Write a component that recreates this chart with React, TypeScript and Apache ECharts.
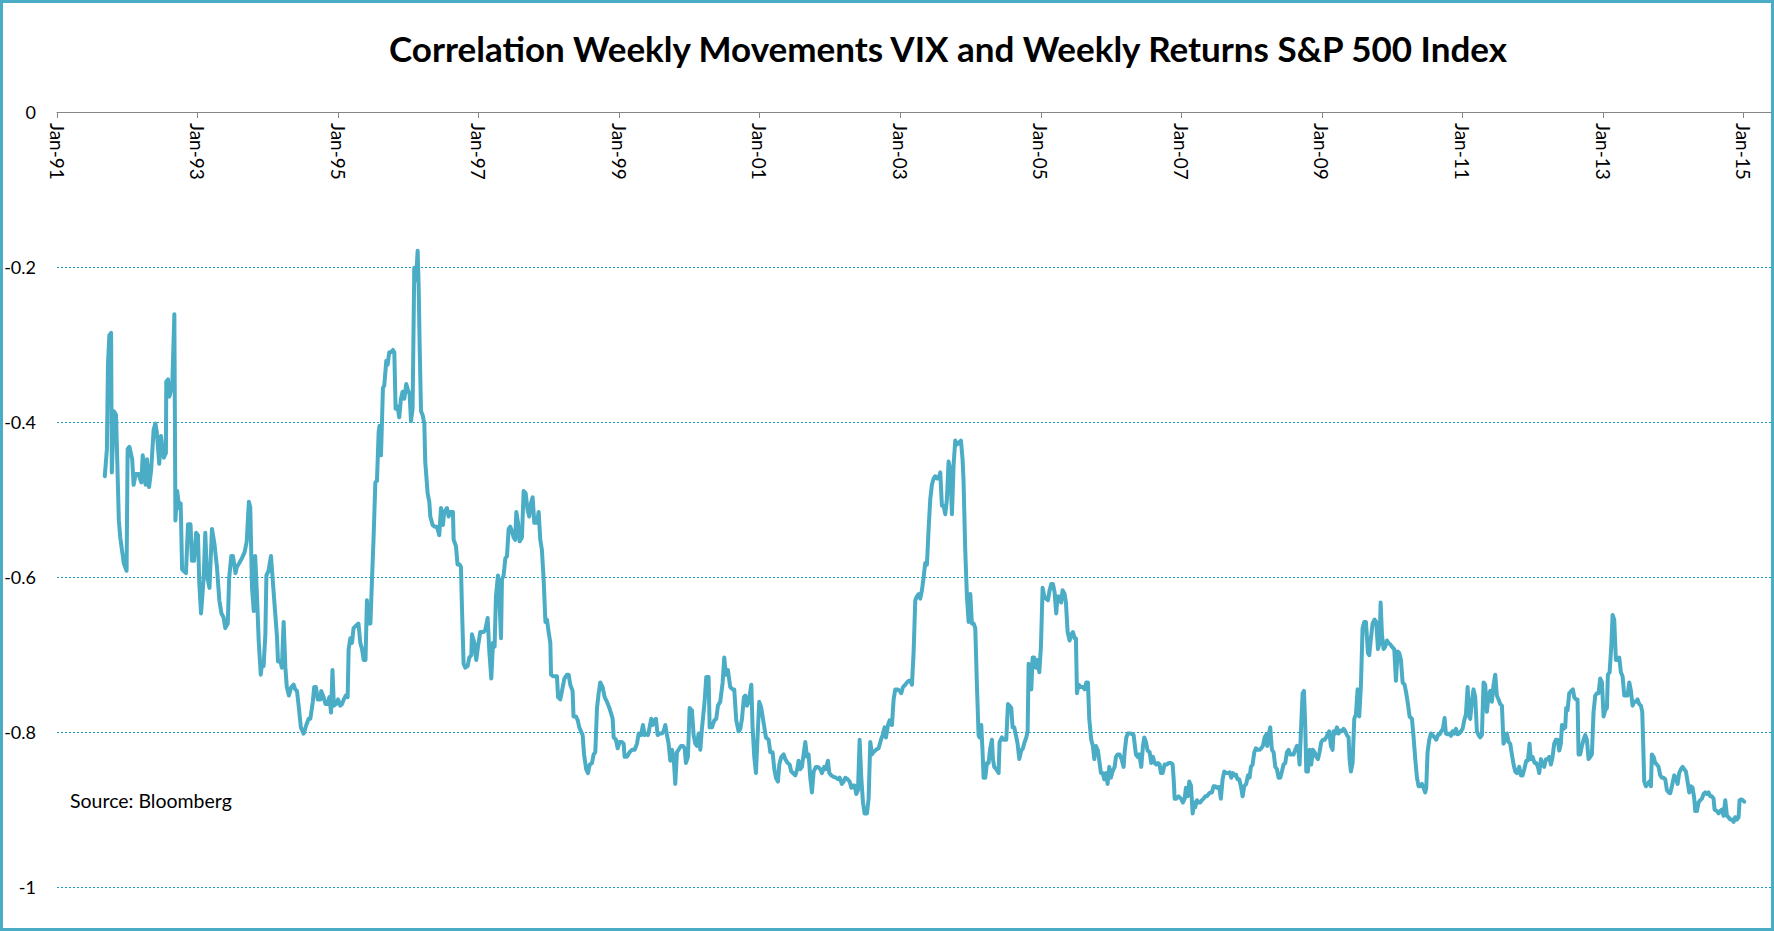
import React, { useEffect, useRef } from 'react';
import * as echarts from 'echarts';

const TITLE = 'Correlation Weekly Movements VIX and Weekly Returns S&P 500 Index';
const SOURCE = 'Source: Bloomberg';
const X_TICK_YEARS = [1991, 1993, 1995, 1997, 1999, 2001, 2003, 2005, 2007, 2009, 2011, 2013, 2015];
const X_MIN = 1991;
const X_MAX = 2015.39;

// [decimal year, correlation]
const corr1991to1995: [number, number][] = [
  [1991.68,-0.470],[1991.71,-0.435],[1991.725,-0.326],[1991.745,-0.288],[1991.77,-0.285],[1991.78,-0.465],[1991.81,-0.386],[1991.84,-0.391],[1991.88,-0.527],[1991.90,-0.549],[1991.95,-0.582],[1991.99,-0.592],[1992.005,-0.435],[1992.03,-0.432],[1992.07,-0.448],[1992.09,-0.481],[1992.12,-0.467],[1992.16,-0.467],[1992.20,-0.478],[1992.22,-0.443],[1992.26,-0.481],[1992.28,-0.448],[1992.31,-0.484],[1992.34,-0.462],[1992.375,-0.410],[1992.40,-0.402],[1992.42,-0.413],[1992.455,-0.454],[1992.48,-0.418],[1992.52,-0.446],[1992.55,-0.440],[1992.555,-0.348],[1992.58,-0.345],[1992.60,-0.367],[1992.64,-0.353],[1992.67,-0.261],[1992.685,-0.527],[1992.71,-0.489],[1992.74,-0.511],[1992.76,-0.505],[1992.78,-0.590],[1992.80,-0.592],[1992.835,-0.595],[1992.864,-0.532],[1992.90,-0.532],[1992.92,-0.579],[1992.95,-0.579],[1992.98,-0.543],[1993.006,-0.546],[1993.025,-0.609],[1993.05,-0.647],[1993.087,-0.601],[1993.11,-0.543],[1993.134,-0.598],[1993.17,-0.614],[1993.205,-0.538],[1993.24,-0.557],[1993.276,-0.587],[1993.31,-0.630],[1993.34,-0.647],[1993.37,-0.652],[1993.395,-0.666],[1993.43,-0.660],[1993.45,-0.601],[1993.48,-0.573],[1993.504,-0.573],[1993.54,-0.595],[1993.56,-0.587],[1993.594,-0.582],[1993.63,-0.576],[1993.67,-0.568],[1993.70,-0.554],[1993.73,-0.503],[1993.75,-0.510],[1993.775,-0.614],[1993.80,-0.644],[1993.82,-0.573],[1993.845,-0.622],[1993.87,-0.682],[1993.90,-0.726],[1993.917,-0.712],[1993.94,-0.715],[1993.965,-0.674],[1993.98,-0.598],[1994.01,-0.592],[1994.045,-0.573],[1994.083,-0.620],[1994.13,-0.677],[1994.145,-0.709],[1994.18,-0.709],[1994.20,-0.717],[1994.225,-0.658],[1994.25,-0.717],[1994.27,-0.742],[1994.30,-0.753],[1994.334,-0.742],[1994.367,-0.739],[1994.39,-0.745],[1994.415,-0.747],[1994.44,-0.767],[1994.47,-0.794],[1994.51,-0.802],[1994.548,-0.791],[1994.58,-0.783],[1994.605,-0.783],[1994.64,-0.761],[1994.66,-0.742],[1994.685,-0.742],[1994.71,-0.758],[1994.747,-0.758],[1994.76,-0.747],[1994.794,-0.755],[1994.82,-0.764],[1994.85,-0.764],[1994.875,-0.755],[1994.90,-0.775],[1994.92,-0.720],[1994.94,-0.766],[1994.97,-0.764],[1995.00,-0.758],[1995.03,-0.766],[1995.055,-0.764],[1995.08,-0.758],[1995.11,-0.753],[1995.136,-0.755],[1995.15,-0.693],[1995.174,-0.679],[1995.198,-0.685],[1995.22,-0.666],[1995.255,-0.663],[1995.29,-0.660],[1995.316,-0.685],[1995.34,-0.693],[1995.364,-0.707],[1995.39,-0.707],[1995.41,-0.630],[1995.435,-0.660],[1995.46,-0.660]
];

const corr1995to1999: [number, number][] = [
  [1995.48,-0.609],[1995.505,-0.549],[1995.53,-0.478],[1995.553,-0.476],[1995.577,-0.413],[1995.59,-0.405],[1995.61,-0.443],[1995.624,-0.401],[1995.638,-0.356],[1995.657,-0.353],[1995.686,-0.321],[1995.705,-0.326],[1995.728,-0.310],[1995.752,-0.310],[1995.78,-0.307],[1995.80,-0.310],[1995.818,-0.383],[1995.847,-0.380],[1995.87,-0.394],[1995.894,-0.370],[1995.918,-0.361],[1995.942,-0.370],[1995.97,-0.351],[1995.994,-0.359],[1996.018,-0.364],[1996.037,-0.399],[1996.06,-0.383],[1996.084,-0.201],[1996.108,-0.217],[1996.132,-0.179],[1996.146,-0.223],[1996.16,-0.299],[1996.18,-0.386],[1996.203,-0.391],[1996.227,-0.402],[1996.24,-0.451],[1996.274,-0.492],[1996.298,-0.503],[1996.312,-0.522],[1996.345,-0.533],[1996.374,-0.535],[1996.407,-0.535],[1996.44,-0.546],[1996.464,-0.511],[1996.492,-0.533],[1996.51,-0.516],[1996.55,-0.511],[1996.573,-0.522],[1996.597,-0.516],[1996.634,-0.516],[1996.644,-0.552],[1996.677,-0.560],[1996.70,-0.584],[1996.73,-0.584],[1996.748,-0.587],[1996.763,-0.641],[1996.786,-0.712],[1996.81,-0.717],[1996.843,-0.715],[1996.867,-0.704],[1996.895,-0.701],[1996.905,-0.674],[1996.938,-0.685],[1996.966,-0.707],[1996.99,-0.690],[1997.023,-0.671],[1997.07,-0.671],[1997.095,-0.668],[1997.128,-0.653],[1997.152,-0.696],[1997.18,-0.731],[1997.204,-0.685],[1997.227,-0.690],[1997.246,-0.625],[1997.275,-0.598],[1997.294,-0.625],[1997.318,-0.679],[1997.332,-0.603],[1997.355,-0.598],[1997.38,-0.576],[1997.403,-0.573],[1997.427,-0.538],[1997.45,-0.535],[1997.474,-0.541],[1997.498,-0.549],[1997.52,-0.552],[1997.536,-0.516],[1997.56,-0.530],[1997.583,-0.554],[1997.616,-0.549],[1997.64,-0.489],[1997.669,-0.492],[1997.697,-0.514],[1997.72,-0.522],[1997.745,-0.505],[1997.768,-0.497],[1997.792,-0.530],[1997.83,-0.530],[1997.854,-0.516],[1997.877,-0.552],[1997.90,-0.565],[1997.925,-0.603],[1997.95,-0.658],[1997.972,-0.655],[1997.996,-0.671],[1998.02,-0.685],[1998.03,-0.726],[1998.058,-0.728],[1998.09,-0.728],[1998.114,-0.728],[1998.13,-0.755],[1998.162,-0.758],[1998.186,-0.747],[1998.22,-0.731],[1998.257,-0.726],[1998.28,-0.726],[1998.304,-0.739],[1998.337,-0.747],[1998.35,-0.780],[1998.385,-0.780],[1998.41,-0.785],[1998.432,-0.794],[1998.456,-0.799],[1998.48,-0.804],[1998.50,-0.829],[1998.53,-0.848],[1998.556,-0.853],[1998.58,-0.842],[1998.613,-0.840],[1998.636,-0.829],[1998.66,-0.826],[1998.684,-0.769],[1998.708,-0.750],[1998.731,-0.736],[1998.764,-0.742],[1998.793,-0.755],[1998.826,-0.761],[1998.86,-0.769],[1998.888,-0.777],[1998.907,-0.783],[1998.921,-0.807],[1998.954,-0.810],[1998.978,-0.821],[1999.006,-0.813],[1999.04,-0.813],[1999.063,-0.815],[1999.077,-0.832],[1999.11,-0.832],[1999.148,-0.826],[1999.182,-0.823],[1999.22,-0.823],[1999.253,-0.815],[1999.277,-0.802],[1999.31,-0.804],[1999.338,-0.791],[1999.362,-0.804]
];

const corr1999to2003: [number, number][] = [
  [1999.371,-0.802],[1999.409,-0.804],[1999.428,-0.796],[1999.456,-0.783],[1999.475,-0.791],[1999.499,-0.785],[1999.523,-0.783],[1999.547,-0.804],[1999.575,-0.802],[1999.608,-0.802],[1999.632,-0.799],[1999.656,-0.791],[1999.68,-0.804],[1999.703,-0.815],[1999.727,-0.837],[1999.75,-0.823],[1999.774,-0.832],[1999.798,-0.867],[1999.822,-0.826],[1999.845,-0.823],[1999.879,-0.818],[1999.907,-0.818],[1999.931,-0.821],[1999.95,-0.840],[1999.978,-0.832],[2000.002,-0.769],[2000.035,-0.772],[2000.059,-0.804],[2000.083,-0.815],[2000.106,-0.818],[2000.13,-0.802],[2000.154,-0.823],[2000.177,-0.796],[2000.215,-0.761],[2000.239,-0.729],[2000.272,-0.729],[2000.287,-0.794],[2000.32,-0.794],[2000.353,-0.785],[2000.381,-0.783],[2000.405,-0.766],[2000.438,-0.761],[2000.472,-0.736],[2000.495,-0.704],[2000.519,-0.726],[2000.547,-0.720],[2000.58,-0.742],[2000.614,-0.745],[2000.637,-0.745],[2000.666,-0.785],[2000.699,-0.799],[2000.723,-0.796],[2000.747,-0.783],[2000.775,-0.755],[2000.794,-0.753],[2000.818,-0.766],[2000.842,-0.761],[2000.88,-0.739],[2000.898,-0.794],[2000.922,-0.832],[2000.946,-0.853],[2000.97,-0.804],[2000.993,-0.761],[2001.022,-0.769],[2001.055,-0.788],[2001.088,-0.807],[2001.126,-0.810],[2001.15,-0.826],[2001.183,-0.826],[2001.207,-0.848],[2001.23,-0.859],[2001.259,-0.864],[2001.278,-0.842],[2001.307,-0.832],[2001.34,-0.829],[2001.363,-0.835],[2001.397,-0.840],[2001.425,-0.842],[2001.449,-0.851],[2001.473,-0.853],[2001.506,-0.856],[2001.534,-0.848],[2001.553,-0.837],[2001.577,-0.848],[2001.6,-0.845],[2001.624,-0.829],[2001.648,-0.813],[2001.672,-0.832],[2001.695,-0.829],[2001.719,-0.859],[2001.743,-0.878],[2001.767,-0.851],[2001.8,-0.845],[2001.828,-0.845],[2001.862,-0.848],[2001.885,-0.853],[2001.918,-0.845],[2001.942,-0.848],[2001.97,-0.837],[2001.99,-0.853],[2002.018,-0.856],[2002.051,-0.858],[2002.084,-0.859],[2002.113,-0.861],[2002.137,-0.859],[2002.17,-0.867],[2002.194,-0.864],[2002.217,-0.859],[2002.25,-0.861],[2002.279,-0.864],[2002.303,-0.872],[2002.326,-0.869],[2002.35,-0.869],[2002.374,-0.880],[2002.398,-0.875],[2002.421,-0.810],[2002.445,-0.859],[2002.469,-0.891],[2002.492,-0.905],[2002.526,-0.905],[2002.549,-0.886],[2002.573,-0.813],[2002.597,-0.829],[2002.62,-0.826],[2002.654,-0.823],[2002.692,-0.821],[2002.725,-0.810],[2002.749,-0.804],[2002.777,-0.794],[2002.796,-0.807],[2002.825,-0.791],[2002.848,-0.785],[2002.881,-0.791],[2002.905,-0.758],[2002.929,-0.745],[2002.962,-0.745],[2002.99,-0.747],[2003.014,-0.750],[2003.038,-0.742],[2003.071,-0.739],[2003.095,-0.736],[2003.119,-0.734],[2003.142,-0.734],[2003.166,-0.739],[2003.19,-0.696],[2003.213,-0.630],[2003.237,-0.625],[2003.261,-0.622]
];

const corr2003to2007: [number, number][] = [
  [2003.284,-0.628],[2003.308,-0.617],[2003.331,-0.601],[2003.355,-0.582],[2003.379,-0.584],[2003.403,-0.538],[2003.426,-0.500],[2003.45,-0.481],[2003.474,-0.473],[2003.497,-0.470],[2003.521,-0.473],[2003.545,-0.473],[2003.569,-0.465],[2003.592,-0.508],[2003.616,-0.508],[2003.64,-0.519],[2003.663,-0.500],[2003.687,-0.451],[2003.711,-0.462],[2003.735,-0.519],[2003.758,-0.456],[2003.782,-0.424],[2003.806,-0.429],[2003.83,-0.427],[2003.863,-0.424],[2003.886,-0.448],[2003.9,-0.476],[2003.924,-0.565],[2003.948,-0.625],[2003.972,-0.658],[2003.996,-0.622],[2004.019,-0.660],[2004.043,-0.660],[2004.067,-0.666],[2004.09,-0.739],[2004.114,-0.804],[2004.128,-0.807],[2004.152,-0.791],[2004.171,-0.826],[2004.185,-0.859],[2004.209,-0.859],[2004.233,-0.840],[2004.256,-0.840],[2004.28,-0.821],[2004.304,-0.810],[2004.318,-0.835],[2004.337,-0.845],[2004.366,-0.848],[2004.399,-0.853],[2004.413,-0.813],[2004.446,-0.807],[2004.47,-0.810],[2004.508,-0.810],[2004.532,-0.764],[2004.555,-0.766],[2004.579,-0.769],[2004.598,-0.794],[2004.622,-0.794],[2004.645,-0.804],[2004.669,-0.815],[2004.693,-0.835],[2004.721,-0.824],[2004.745,-0.821],[2004.769,-0.813],[2004.793,-0.807],[2004.812,-0.799],[2004.826,-0.712],[2004.849,-0.715],[2004.864,-0.745],[2004.883,-0.704],[2004.906,-0.704],[2004.93,-0.717],[2004.954,-0.707],[2004.978,-0.723],[2005.001,-0.690],[2005.025,-0.614],[2005.049,-0.625],[2005.072,-0.628],[2005.101,-0.630],[2005.125,-0.617],[2005.148,-0.609],[2005.172,-0.609],[2005.196,-0.620],[2005.219,-0.647],[2005.238,-0.625],[2005.267,-0.625],[2005.29,-0.633],[2005.309,-0.617],[2005.338,-0.622],[2005.357,-0.633],[2005.381,-0.671],[2005.409,-0.682],[2005.433,-0.674],[2005.457,-0.671],[2005.48,-0.679],[2005.499,-0.679],[2005.514,-0.750],[2005.537,-0.739],[2005.57,-0.742],[2005.599,-0.742],[2005.623,-0.745],[2005.646,-0.736],[2005.67,-0.736],[2005.689,-0.783],[2005.717,-0.810],[2005.741,-0.818],[2005.76,-0.835],[2005.784,-0.818],[2005.812,-0.824],[2005.836,-0.840],[2005.855,-0.853],[2005.879,-0.853],[2005.903,-0.861],[2005.926,-0.853],[2005.95,-0.867],[2005.974,-0.845],[2005.997,-0.859],[2006.021,-0.851],[2006.05,-0.845],[2006.069,-0.832],[2006.092,-0.829],[2006.121,-0.829],[2006.149,-0.835],[2006.178,-0.845],[2006.192,-0.826],[2006.216,-0.807],[2006.239,-0.802],[2006.263,-0.802],[2006.287,-0.802],[2006.32,-0.804],[2006.353,-0.829],[2006.377,-0.832],[2006.401,-0.829],[2006.429,-0.845],[2006.453,-0.818],[2006.472,-0.807],[2006.496,-0.813],[2006.519,-0.824],[2006.548,-0.826],[2006.571,-0.840],[2006.595,-0.832],[2006.619,-0.840],[2006.643,-0.842],[2006.666,-0.840],[2006.69,-0.842],[2006.709,-0.853],[2006.733,-0.853],[2006.761,-0.842],[2006.794,-0.842],[2006.818,-0.840],[2006.852,-0.840],[2006.875,-0.842],[2006.889,-0.859],[2006.904,-0.886],[2006.927,-0.886],[2006.96,-0.883],[2006.994,-0.886],[2007.022,-0.891],[2007.046,-0.886],[2007.065,-0.872],[2007.089,-0.883],[2007.112,-0.864],[2007.136,-0.869],[2007.16,-0.905],[2007.183,-0.891]
];

const corr2007to2011: [number, number][] = [
  [2007.197,-0.897],[2007.221,-0.888],[2007.244,-0.891],[2007.268,-0.891],[2007.292,-0.888],[2007.316,-0.886],[2007.339,-0.883],[2007.363,-0.883],[2007.387,-0.880],[2007.41,-0.878],[2007.434,-0.878],[2007.458,-0.870],[2007.482,-0.870],[2007.505,-0.872],[2007.539,-0.871],[2007.562,-0.886],[2007.586,-0.861],[2007.61,-0.851],[2007.638,-0.853],[2007.662,-0.853],[2007.686,-0.852],[2007.709,-0.859],[2007.733,-0.853],[2007.757,-0.856],[2007.776,-0.855],[2007.799,-0.861],[2007.823,-0.861],[2007.847,-0.870],[2007.871,-0.883],[2007.894,-0.870],[2007.923,-0.867],[2007.947,-0.856],[2007.97,-0.859],[2007.989,-0.845],[2008.013,-0.842],[2008.037,-0.826],[2008.06,-0.821],[2008.084,-0.823],[2008.113,-0.823],[2008.136,-0.821],[2008.16,-0.818],[2008.184,-0.807],[2008.203,-0.804],[2008.222,-0.818],[2008.241,-0.804],[2008.264,-0.794],[2008.288,-0.823],[2008.312,-0.826],[2008.336,-0.845],[2008.359,-0.848],[2008.383,-0.859],[2008.407,-0.859],[2008.43,-0.851],[2008.454,-0.842],[2008.478,-0.840],[2008.502,-0.826],[2008.525,-0.823],[2008.549,-0.829],[2008.573,-0.829],[2008.596,-0.829],[2008.62,-0.823],[2008.644,-0.818],[2008.668,-0.826],[2008.682,-0.842],[2008.706,-0.788],[2008.725,-0.750],[2008.744,-0.747],[2008.763,-0.794],[2008.777,-0.851],[2008.8,-0.851],[2008.824,-0.823],[2008.848,-0.842],[2008.871,-0.823],[2008.895,-0.826],[2008.919,-0.832],[2008.943,-0.835],[2008.966,-0.826],[2008.99,-0.813],[2009.014,-0.810],[2009.038,-0.810],[2009.061,-0.807],[2009.085,-0.802],[2009.104,-0.799],[2009.128,-0.818],[2009.151,-0.823],[2009.166,-0.799],[2009.189,-0.802],[2009.213,-0.794],[2009.237,-0.802],[2009.261,-0.798],[2009.284,-0.799],[2009.308,-0.796],[2009.332,-0.799],[2009.355,-0.804],[2009.379,-0.807],[2009.393,-0.835],[2009.412,-0.851],[2009.436,-0.840],[2009.46,-0.783],[2009.484,-0.777],[2009.507,-0.745],[2009.531,-0.780],[2009.555,-0.739],[2009.578,-0.666],[2009.602,-0.658],[2009.626,-0.658],[2009.654,-0.698],[2009.673,-0.701],[2009.697,-0.679],[2009.721,-0.660],[2009.749,-0.655],[2009.773,-0.658],[2009.797,-0.693],[2009.82,-0.685],[2009.835,-0.633],[2009.854,-0.674],[2009.877,-0.693],[2009.901,-0.690],[2009.925,-0.682],[2009.948,-0.685],[2009.972,-0.687],[2009.996,-0.690],[2010.029,-0.693],[2010.053,-0.734],[2010.077,-0.696],[2010.1,-0.698],[2010.124,-0.707],[2010.148,-0.736],[2010.176,-0.739],[2010.2,-0.750],[2010.224,-0.764],[2010.247,-0.780],[2010.281,-0.783],[2010.304,-0.807],[2010.328,-0.835],[2010.352,-0.859],[2010.375,-0.870],[2010.399,-0.870],[2010.423,-0.867],[2010.446,-0.872],[2010.47,-0.878],[2010.484,-0.872],[2010.503,-0.826],[2010.527,-0.810],[2010.551,-0.802],[2010.575,-0.804],[2010.603,-0.807],[2010.627,-0.810],[2010.65,-0.804],[2010.674,-0.803],[2010.698,-0.799],[2010.722,-0.796],[2010.745,-0.782],[2010.764,-0.802],[2010.788,-0.803],[2010.812,-0.802],[2010.836,-0.805],[2010.859,-0.799],[2010.883,-0.802],[2010.907,-0.796],[2010.93,-0.803],[2010.954,-0.802],[2010.978,-0.799],[2011.001,-0.796],[2011.025,-0.785],[2011.049,-0.777],[2011.073,-0.742],[2011.096,-0.780]
];

const corr2011to2015: [number, number][] = [
  [2011.11,-0.783],[2011.134,-0.761],[2011.157,-0.745],[2011.181,-0.755],[2011.205,-0.799],[2011.229,-0.804],[2011.252,-0.807],[2011.276,-0.804],[2011.3,-0.736],[2011.323,-0.739],[2011.347,-0.774],[2011.371,-0.753],[2011.395,-0.747],[2011.418,-0.761],[2011.442,-0.739],[2011.466,-0.726],[2011.489,-0.753],[2011.513,-0.758],[2011.537,-0.764],[2011.561,-0.766],[2011.584,-0.815],[2011.608,-0.810],[2011.632,-0.802],[2011.656,-0.813],[2011.679,-0.815],[2011.703,-0.829],[2011.727,-0.842],[2011.75,-0.851],[2011.774,-0.853],[2011.807,-0.845],[2011.831,-0.856],[2011.855,-0.856],[2011.879,-0.848],[2011.907,-0.837],[2011.931,-0.837],[2011.954,-0.815],[2011.973,-0.835],[2011.997,-0.832],[2012.026,-0.840],[2012.049,-0.840],[2012.073,-0.845],[2012.092,-0.853],[2012.116,-0.835],[2012.139,-0.842],[2012.163,-0.845],[2012.187,-0.835],[2012.211,-0.835],[2012.234,-0.832],[2012.258,-0.842],[2012.282,-0.832],[2012.305,-0.815],[2012.329,-0.810],[2012.353,-0.810],[2012.377,-0.824],[2012.4,-0.815],[2012.415,-0.791],[2012.438,-0.796],[2012.462,-0.794],[2012.476,-0.769],[2012.495,-0.772],[2012.519,-0.750],[2012.547,-0.747],[2012.571,-0.745],[2012.59,-0.755],[2012.614,-0.758],[2012.637,-0.758],[2012.652,-0.829],[2012.675,-0.829],[2012.699,-0.818],[2012.723,-0.810],[2012.747,-0.804],[2012.77,-0.810],[2012.794,-0.835],[2012.818,-0.832],[2012.841,-0.829],[2012.865,-0.774],[2012.889,-0.753],[2012.913,-0.750],[2012.936,-0.750],[2012.96,-0.731],[2012.984,-0.736],[2013.008,-0.780],[2013.031,-0.772],[2013.055,-0.769],[2013.069,-0.726],[2013.093,-0.723],[2013.117,-0.690],[2013.136,-0.649],[2013.159,-0.655],[2013.183,-0.707],[2013.207,-0.707],[2013.231,-0.704],[2013.254,-0.723],[2013.278,-0.728],[2013.302,-0.753],[2013.325,-0.753],[2013.349,-0.753],[2013.373,-0.736],[2013.397,-0.747],[2013.42,-0.766],[2013.444,-0.761],[2013.468,-0.761],[2013.491,-0.758],[2013.515,-0.764],[2013.539,-0.766],[2013.558,-0.774],[2013.572,-0.818],[2013.586,-0.864],[2013.61,-0.870],[2013.634,-0.867],[2013.657,-0.864],[2013.681,-0.870],[2013.695,-0.829],[2013.719,-0.832],[2013.743,-0.840],[2013.767,-0.842],[2013.79,-0.845],[2013.814,-0.856],[2013.838,-0.859],[2013.861,-0.859],[2013.885,-0.861],[2013.909,-0.875],[2013.933,-0.878],[2013.956,-0.879],[2013.98,-0.870],[2014.013,-0.856],[2014.037,-0.859],[2014.061,-0.867],[2014.084,-0.853],[2014.108,-0.848],[2014.132,-0.845],[2014.155,-0.848],[2014.179,-0.851],[2014.203,-0.864],[2014.227,-0.878],[2014.25,-0.870],[2014.274,-0.872],[2014.298,-0.886],[2014.312,-0.902],[2014.336,-0.902],[2014.359,-0.891],[2014.383,-0.888],[2014.407,-0.886],[2014.431,-0.880],[2014.454,-0.878],[2014.478,-0.880],[2014.502,-0.878],[2014.526,-0.883],[2014.549,-0.883],[2014.573,-0.886],[2014.587,-0.900],[2014.62,-0.902],[2014.644,-0.905],[2014.668,-0.902],[2014.692,-0.900],[2014.715,-0.908],[2014.739,-0.888],[2014.763,-0.908],[2014.786,-0.910],[2014.81,-0.913],[2014.834,-0.913],[2014.858,-0.916],[2014.881,-0.910],[2014.905,-0.913],[2014.929,-0.910],[2014.943,-0.888],[2014.967,-0.887],[2014.99,-0.888],[2015.009,-0.890]
];

const FONT = 'Lato, "Open Sans", sans-serif';

export default function App() {
  const ref = useRef<HTMLDivElement>(null);
  useEffect(() => {
    document.body.style.margin = '0';
    const chart = echarts.init(ref.current as HTMLDivElement, null, { renderer: 'svg' });
    const data = [
      ...corr1991to1995,
      ...corr1995to1999,
      ...corr1999to2003,
      ...corr2003to2007,
      ...corr2007to2011,
      ...corr2011to2015,
    ];
    chart.setOption({
      animation: false,
      backgroundColor: '#ffffff',
      grid: { left: 57, right: 3, top: 112, bottom: 44, containLabel: false },
      xAxis: {
        type: 'value',
        position: 'top',
        min: X_MIN,
        max: X_MAX,
        axisLine: { show: true, onZero: false, lineStyle: { color: '#868686', width: 1 } },
        axisTick: {
          show: true,
          inside: true,
          length: 6,
          customValues: X_TICK_YEARS,
          lineStyle: { color: '#868686', width: 1 },
        },
        axisLabel: {
          show: true,
          inside: true,
          rotate: 90,
          margin: 11,
          customValues: X_TICK_YEARS,
          formatter: (v: number) => 'Jan-' + String(Math.round(v) % 100).padStart(2, '0'),
          fontFamily: FONT,
          fontSize: 19,
          color: '#000000',
        },
        splitLine: { show: false },
      },
      yAxis: {
        type: 'value',
        min: -1,
        max: 0,
        interval: 0.2,
        axisLine: { show: false },
        axisTick: { show: false },
        axisLabel: {
          margin: 21,
          fontFamily: FONT,
          fontSize: 18,
          color: '#000000',
          formatter: (v: number) => {
            const r = Math.round(v * 10) / 10;
            if (r === 0) return '0';
            if (r === -1) return '-1';
            return r.toFixed(1);
          },
        },
        splitLine: { show: true, lineStyle: { color: '#1E9CBF', width: 1, type: [2, 2] } },
      },
      series: [
        {
          type: 'line',
          data,
          showSymbol: false,
          symbol: 'none',
          lineStyle: { color: '#4BACC6', width: 4, join: 'round', cap: 'round' },
          itemStyle: { color: '#4BACC6' },
          z: 3,
        },
      ],
      graphic: [
        {
          type: 'text',
          x: 948,
          y: 48,
          style: {
            text: TITLE,
            textAlign: 'center',
            textVerticalAlign: 'middle',
            fontFamily: FONT,
            fontWeight: 'bold',
            fontSize: 35,
            fill: '#000000',
          },
        },
        {
          type: 'text',
          x: 70,
          y: 800,
          style: {
            text: SOURCE,
            textAlign: 'left',
            textVerticalAlign: 'middle',
            fontFamily: FONT,
            fontSize: 19.5,
            fill: '#000000',
          },
        },
        {
          type: 'rect',
          shape: { x: 1.5, y: 1.5, width: 1771, height: 928 },
          style: { fill: 'none', stroke: '#4BACC6', lineWidth: 3 },
          silent: true,
        },
      ],
    });
    return () => chart.dispose();
  }, []);
  return <div ref={ref} style={{ width: 1774, height: 931 }} />;
}
